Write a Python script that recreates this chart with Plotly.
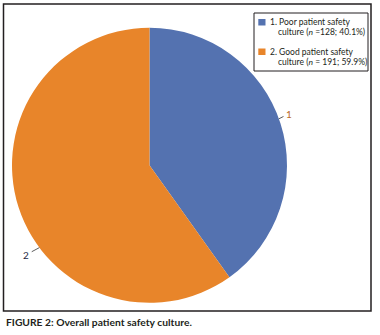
import math
import plotly.graph_objects as go

# ---- data ----
legend_line1 = ["1. Poor patient safety", "2. Good patient safety"]
legend_line2 = ["culture (<i>n</i> =128; 40.1%)", "culture (<i>n</i> = 191; 59.9%)"]
slice_labels = ["1", "2"]
values = [128, 191]
colors = ["#5472B0", "#E8852A"]
label_colors = ["#B86A28", "#1F2B45"]

W, H = 380, 335
FONT = "Lato, Liberation Sans, sans-serif"
INK = "#231F20"
# pie geometry in pixels (styling)
cx, cy, R = 149.5, 165.3, 137.5
label_angle_offset = [-2, -19]   # degrees, tweak of label anchors
label_ax = [10, -13]
label_ay = [-5, 7]


def px2paper(x, y):
    return x / W, 1 - y / H


fig = go.Figure()
fig.add_trace(go.Pie(
    labels=[a + " " + b for a, b in zip(legend_line1, legend_line2)], values=values,
    sort=False, direction="clockwise", rotation=0,
    marker=dict(colors=colors, line=dict(width=0)), textinfo="none", hoverinfo="label+value",
    domain=dict(x=[(cx - R) / W, (cx + R) / W], y=[1 - (cy + R) / H, 1 - (cy - R) / H]),
    showlegend=False,
))

total = sum(values)
cum = 0
annotations = []
shapes = []
for i, v in enumerate(values):
    mid = (cum + v / 2) / total * 360 + label_angle_offset[i]
    cum += v
    a = math.radians(mid)
    px = cx + R * math.sin(a)
    py = cy - R * math.cos(a)
    x, y = px2paper(px, py)
    annotations.append(dict(
        x=x, y=y, xref="paper", yref="paper",
        text=slice_labels[i], showarrow=True, arrowhead=0, arrowwidth=0.8,
        arrowcolor="#333333", ax=label_ax[i], ay=label_ay[i],
        font=dict(family=FONT, size=10, color=label_colors[i]),
        standoff=0, startstandoff=1,
    ))

# custom legend box
lx0, ly0, lx1, ly1 = 254, 13, 368, 71
bx0, by0 = px2paper(lx0, ly1)
bx1, by1 = px2paper(lx1, ly0)
shapes.append(dict(type="rect", xref="paper", yref="paper", x0=bx0, x1=bx1, y0=by0, y1=by1,
                   line=dict(color=INK, width=1), fillcolor="white", layer="above"))
item_top = [19, 48.5]
for i in range(len(values)):
    sx0, sy0 = px2paper(258.3, item_top[i] + 6.5)
    sx1, sy1 = px2paper(265.5, item_top[i])
    shapes.append(dict(type="rect", xref="paper", yref="paper", x0=sx0, x1=sx1, y0=sy0, y1=sy1,
                       line=dict(width=0), fillcolor=colors[i], layer="above"))
    tx, ty = px2paper(267.5, item_top[i] + 3.3)
    annotations.append(dict(x=tx, y=ty, xref="paper", yref="paper", xanchor="left", yanchor="middle",
                            text=legend_line1[i], showarrow=False,
                            font=dict(family=FONT, size=8.5, color=INK)))
    tx, ty = px2paper(276, item_top[i] + 13.3)
    annotations.append(dict(x=tx, y=ty, xref="paper", yref="paper", xanchor="left", yanchor="middle",
                            text=legend_line2[i], showarrow=False,
                            font=dict(family=FONT, size=8.5, color=INK)))

cx_, cy_ = px2paper(4, 322)
annotations.append(dict(
    x=cx_, y=cy_, xref="paper", yref="paper", xanchor="left", yanchor="middle",
    text="<b>FIGURE 2: Overall patient safety culture.</b>", showarrow=False,
    font=dict(family=FONT, size=10.3, color=INK),
))

fx0, fy0 = px2paper(3.5, 311)
fx1, fy1 = px2paper(371, 4)
shapes.append(dict(type="rect", xref="paper", yref="paper", x0=fx0, x1=fx1, y0=fy0, y1=fy1,
                   line=dict(color=INK, width=1.5)))

fig.update_layout(
    width=W, height=H, margin=dict(l=0, r=0, t=0, b=0),
    paper_bgcolor="white", plot_bgcolor="white",
    showlegend=False,
    annotations=annotations,
    shapes=shapes,
)

fig.write_html("out.html", config={"displayModeBar": False},
               post_script="document.body.style.margin='0';document.body.style.overflow='hidden';")
